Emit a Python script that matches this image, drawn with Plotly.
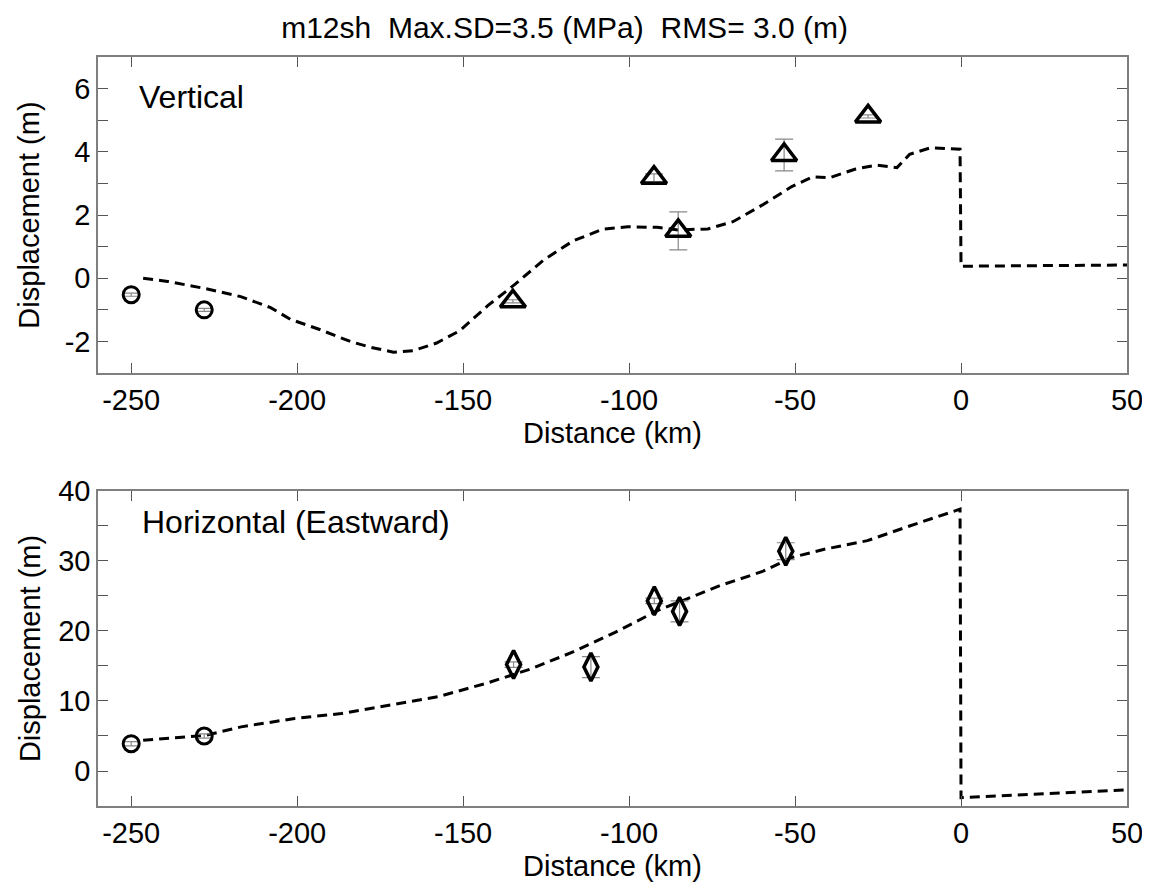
import plotly.graph_objects as go

# ---------------- data ----------------
# Vertical panel
v_model_x = [-246.4, -239, -228, -217, -208, -202, -193, -184, -178, -171, -165, -158, -151, -142.5,
             -134.6, -125.7, -116.9, -108, -100.4, -91.5, -85.2, -76.3, -68.7, -59.8, -51, -44.6,
             -39.6, -32, -25.6, -19.3, -15.5, -9.1, -0.3, 0, 50]
v_model_y = [0.0, -0.1, -0.32, -0.58, -0.93, -1.3, -1.63, -2.0, -2.18, -2.34, -2.29, -2.05, -1.66, -0.86,
             -0.21, 0.58, 1.18, 1.55, 1.63, 1.61, 1.53, 1.56, 1.79, 2.32, 2.9, 3.21,
             3.18, 3.45, 3.58, 3.5, 3.92, 4.13, 4.08, 0.38, 0.42]
v_circ_x = [-250, -228]
v_circ_y = [-0.52, -1.0]
v_circ_err = [0.05, 0.05]
v_tri_x = [-135, -92.5, -85.2, -53.3, -28]
v_tri_y = [-0.73, 3.18, 1.5, 3.9, 5.12]
v_tri_err = [0.05, 0.12, 0.6, 0.5, 0.05]

# Horizontal panel
h_model_x = [-246.4, -227.6, -216.9, -200.8, -186.7, -172.7, -157.6, -142.5, -129.5, -116.9,
             -104.2, -91.5, -85.2, -72.5, -59.8, -51, -40.9, -28.2, -15.5, -0.3, 0, 50]
h_model_y = [4.4, 5.1, 6.3, 7.5, 8.2, 9.4, 10.6, 12.6, 14.6, 17.0,
             19.8, 22.9, 24.1, 26.5, 28.5, 30.5, 31.7, 32.9, 35.0, 37.4, -3.8, -2.7]
h_circ_x = [-250, -228]
h_circ_y = [3.9, 5.0]
h_circ_err = [0.3, 0.3]
h_dia_x = [-134.8, -111.5, -92.4, -84.8, -52.8]
h_dia_y = [15.2, 14.85, 24.3, 22.8, 31.4]
h_dia_err = [0.4, 1.5, 0.4, 1.5, 1.2]

x_ticks = [-250, -200, -150, -100, -50, 0, 50]
x_labels = ["-250", "-200", "-150", "-100", "-50", "0", "50"]
v_yticks = [-3, -2, -1, 0, 1, 2, 3, 4, 5, 6, 7]
v_ylabels = ["", "-2", "", "0", "", "2", "", "4", "", "6", ""]
h_yticks = [-5, 0, 5, 10, 15, 20, 25, 30, 35, 40]
h_ylabels = ["", "0", "", "10", "", "20", "", "30", "", "40"]

title_text = "m12sh  Max.SD=3.5 (MPa)  RMS= 3.0 (m)"

# ---------------- figure ----------------
FONT = "Liberation Sans, Arial, sans-serif"
FS = 29
fig = go.Figure()

dash = "10px,6px"
errstyle = dict(type="data", color="#888888", thickness=1.2, width=9, visible=True)

# vertical
fig.add_trace(go.Scatter(x=v_model_x, y=v_model_y, mode="lines",
                         line=dict(color="black", width=3, dash=dash),
                         xaxis="x", yaxis="y", showlegend=False))
fig.add_trace(go.Scatter(x=v_circ_x, y=v_circ_y, mode="markers",
                         marker=dict(symbol="circle-open", size=16, color="black", line=dict(width=3)),
                         error_y=dict(array=v_circ_err, **errstyle),
                         xaxis="x", yaxis="y", showlegend=False))
fig.add_trace(go.Scatter(x=v_tri_x, y=v_tri_y, mode="markers",
                         marker=dict(symbol="triangle-up-open", size=22, color="black", line=dict(width=3.5)),
                         error_y=dict(array=v_tri_err, **errstyle),
                         xaxis="x", yaxis="y", showlegend=False))

# horizontal
fig.add_trace(go.Scatter(x=h_model_x, y=h_model_y, mode="lines",
                         line=dict(color="black", width=3, dash=dash),
                         xaxis="x2", yaxis="y2", showlegend=False))
fig.add_trace(go.Scatter(x=h_circ_x, y=h_circ_y, mode="markers",
                         marker=dict(symbol="circle-open", size=16, color="black", line=dict(width=3)),
                         error_y=dict(array=h_circ_err, **errstyle),
                         xaxis="x2", yaxis="y2", showlegend=False))
fig.add_trace(go.Scatter(x=h_dia_x, y=h_dia_y, mode="markers",
                         marker=dict(symbol="diamond-tall-open", size=20, color="black", line=dict(width=3.5)),
                         error_y=dict(array=h_dia_err, **errstyle),
                         xaxis="x2", yaxis="y2", showlegend=False))

axis_common = dict(showline=True, linecolor="#7f7f7f", linewidth=1.5, mirror="ticks",
                   ticks="inside", ticklen=10, tickcolor="#555555", tickwidth=1,
                   showgrid=False, zeroline=False,
                   tickfont=dict(family=FONT, size=FS, color="black"))
title_font = dict(family=FONT, size=FS, color="black")

fig.update_layout(
    width=1150, height=888,
    margin=dict(l=90, r=31, t=49, b=90),
    plot_bgcolor="white", paper_bgcolor="white",
    xaxis=dict(domain=[0, 1], anchor="y", range=[-260, 50], tickvals=x_ticks, ticktext=x_labels,
               title=dict(text="Distance (km)", font=title_font, standoff=8),
               **axis_common),
    yaxis=dict(domain=[0.578, 1], anchor="x", range=[-3, 7], tickvals=v_yticks, ticktext=v_ylabels,
               title=dict(text="Displacement (m)", font=title_font, standoff=16),
               **axis_common),
    xaxis2=dict(domain=[0, 1], anchor="y2", range=[-260, 50], tickvals=x_ticks, ticktext=x_labels,
                title=dict(text="Distance (km)", font=title_font, standoff=8),
                **axis_common),
    yaxis2=dict(domain=[0, 0.4206], anchor="x2", range=[-5, 40], tickvals=h_yticks, ticktext=h_ylabels,
                title=dict(text="Displacement (m)", font=title_font, standoff=9),
                **axis_common),
    title=dict(text=title_text, x=0.484, xanchor="center", y=1 - 19/888, yanchor="middle",
               font=dict(family=FONT, size=30, color="black")),
    annotations=[
        dict(text="Vertical", xref="x", yref="y", x=-248.3, y=5.75, xanchor="left", yanchor="middle",
             showarrow=False, font=dict(family=FONT, size=32, color="black")),
        dict(text="Horizontal (Eastward)", xref="x2", yref="y2", x=-247.4, y=35.6, xanchor="left",
             yanchor="middle", showarrow=False, font=dict(family=FONT, size=32, color="black")),
    ],
)

fig.write_html("out.html")
